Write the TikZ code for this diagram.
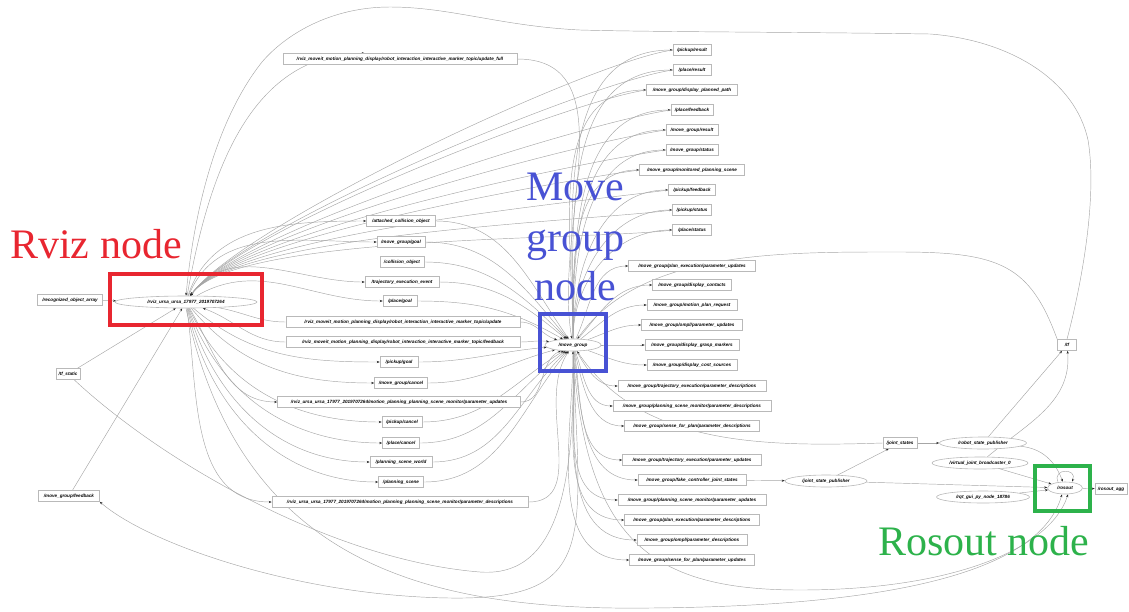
\documentclass[tikz,border=0pt]{standalone}
\usepackage{fontspec}
\setmainfont{Liberation Serif}
\newfontfamily\tinyf{Liberation Sans}
\usetikzlibrary{shapes.geometric,arrows.meta,backgrounds}
\definecolor{rvred}{RGB}{232,38,48}
\definecolor{mgblue}{RGB}{72,82,212}
\definecolor{rogreen}{RGB}{45,178,75}
\tikzset{
  tb/.style={draw=gray!55, line width=0.6pt, fill=white, inner sep=1pt, minimum height=11,
    font=\tinyf\fontsize{4.6}{5}\selectfont\bfseries\itshape},
  nd/.style={ellipse, draw=gray!55, line width=0.6pt, fill=white, inner sep=0pt, minimum height=12,
    font=\tinyf\fontsize{4.6}{5}\selectfont\bfseries\itshape},
  e/.style={draw=gray!70, line width=0.45pt, -{Stealth[length=3pt,width=2.2pt,color=black!85]}},
  ne/.style={draw=gray!70, line width=0.45pt},
  big/.style={inner sep=0pt, font=\fontsize{42}{42}\selectfont},
  hl/.style={line width=4pt}
}
\begin{document}
\begin{tikzpicture}[x=1pt,y=1pt]
\useasboundingbox (0,0) rectangle (1129,-611);

% left nodes
\node[tb,minimum width=65] (roa) at (70,-300) {/recognized\_object\_array};
\node[nd,minimum width=142] (rviz) at (186,-302) {/rviz\_ursa\_ursa\_17977\_2019707264};
\node[tb,minimum width=24] (tfs) at (68,-374) {/tf\_static};
\node[tb,minimum width=61] (mgf) at (69,-496) {/move\_group/feedback};

% left topic column
\node[tb,minimum width=234] (uf) at (400,-59) {/rviz\_moveit\_motion\_planning\_display/robot\_interaction\_interactive\_marker\_topic/update\_full};
\node[tb,minimum width=69] (aco) at (401,-221) {/attached\_collision\_object};
\node[tb,minimum width=48] (mgg) at (401,-242) {/move\_group/goal};
\node[tb,minimum width=44] (co) at (402,-262) {/collision\_object};
\node[tb,minimum width=74] (tee) at (402,-282) {/trajectory\_execution\_event};
\node[tb,minimum width=34] (plg) at (400,-301) {/place/goal};
\node[tb,minimum width=234] (upd) at (403,-322) {/rviz\_moveit\_motion\_planning\_display/robot\_interaction\_interactive\_marker\_topic/update};
\node[tb,minimum width=234] (fb) at (403,-342) {/rviz\_moveit\_motion\_planning\_display/robot\_interaction\_interactive\_marker\_topic/feedback};
\node[tb,minimum width=38] (pkg) at (399,-362) {/pickup/goal};
\node[tb,minimum width=53] (mgc) at (401,-383) {/move\_group/cancel};
\node[tb,minimum width=243] (rpu) at (399,-402) {/rviz\_ursa\_ursa\_17977\_2019707264/motion\_planning\_planning\_scene\_monitor/parameter\_updates};
\node[tb,minimum width=40] (pkc) at (402,-422) {/pickup/cancel};
\node[tb,minimum width=37] (plc) at (401,-443) {/place/cancel};
\node[tb,minimum width=62] (psw) at (401,-462) {/planning\_scene\_world};
\node[tb,minimum width=45] (ps) at (401,-482) {/planning\_scene};
\node[tb,minimum width=256] (rpd) at (400,-502) {/rviz\_ursa\_ursa\_17977\_2019707264/motion\_planning\_planning\_scene\_monitor/parameter\_descriptions};

% move group
\node[nd,minimum width=56] (mg) at (573,-345) {/move\_group};

% right topic column
\node[tb,minimum width=38] (pr) at (692,-50) {/pickup/result};
\node[tb,minimum width=38] (plr) at (692,-70) {/place/result};
\node[tb,minimum width=91] (dpp) at (692,-90) {/move\_group/display\_planned\_path};
\node[tb,minimum width=42] (plf) at (692,-110) {/place/feedback};
\node[tb,minimum width=52] (mgr) at (692,-130) {/move\_group/result};
\node[tb,minimum width=52] (mgs) at (692,-150) {/move\_group/status};
\node[tb,minimum width=105] (mps) at (692,-170) {/move\_group/monitored\_planning\_scene};
\node[tb,minimum width=47] (pkf) at (692,-190) {/pickup/feedback};
\node[tb,minimum width=39] (pks) at (692,-210) {/pickup/status};
\node[tb,minimum width=39] (pls) at (692,-230) {/place/status};
\node[tb,minimum width=127] (peu) at (692,-266) {/move\_group/plan\_execution/parameter\_updates};
\node[tb,minimum width=79] (dc) at (692,-285) {/move\_group/display\_contacts};
\node[tb,minimum width=90] (mpr) at (692,-305) {/move\_group/motion\_plan\_request};
\node[tb,minimum width=101] (opu) at (692,-325) {/move\_group/ompl/parameter\_updates};
\node[tb,minimum width=94] (dgm) at (692,-345) {/move\_group/display\_grasp\_markers};
\node[tb,minimum width=90] (dcs) at (692,-365) {/move\_group/display\_cost\_sources};
\node[tb,minimum width=148] (ted) at (692,-386) {/move\_group/trajectory\_execution/parameter\_descriptions};
\node[tb,minimum width=158] (psmd) at (692,-406) {/move\_group/planning\_scene\_monitor/parameter\_descriptions};
\node[tb,minimum width=135] (sfpd) at (692,-426) {/move\_group/sense\_for\_plan/parameter\_descriptions};
\node[tb,minimum width=139] (teu) at (692,-460) {/move\_group/trajectory\_execution/parameter\_updates};
\node[tb,minimum width=108] (fcjs) at (692,-480) {/move\_group/fake\_controller\_joint\_states};
\node[tb,minimum width=148] (psmu) at (692,-500) {/move\_group/planning\_scene\_monitor/parameter\_updates};
\node[tb,minimum width=135] (ped) at (692,-520) {/move\_group/plan\_execution/parameter\_descriptions};
\node[tb,minimum width=110] (od) at (692,-540) {/move\_group/ompl/parameter\_descriptions};
\node[tb,minimum width=125] (sfpu) at (692,-560) {/move\_group/sense\_for\_plan/parameter\_updates};

% far right
\node[tb,minimum width=19] (tf) at (1067,-345) {/tf};
\node[tb,minimum width=34] (js) at (900,-443) {/joint\_states};
\node[nd,minimum width=87] (rsp) at (983,-443) {/robot\_state\_publisher};
\node[nd,minimum width=96] (vjb) at (980,-463) {/virtual\_joint\_broadcaster\_0};
\node[nd,minimum width=82] (jsp) at (826,-481) {/joint\_state\_publisher};
\node[nd,minimum width=35] (rosout) at (1065,-488) {/rosout};
\node[nd,minimum width=93] (rqt) at (983,-497) {/rqt\_gui\_py\_node\_18786};
\node[tb,minimum width=32] (ragg) at (1111,-489) {/rosout\_agg};

\begin{scope}[on background layer]
% into rviz
\draw[e] (roa) -- (rviz);
\draw[e] (tfs) -- (rviz);
\draw[e] (mgf) -- (rviz);
\draw[e] (fb.west) to[out=180,in=-20] (rviz);
\draw[ne] (rviz) to[out=-10,in=180] (upd.west);
% big top arc /tf -> rviz
\draw[e] (tf.north) .. controls (1080,-290) and (1098,-200) .. (1088,-140)
  .. controls (1075,-80) and (1010,-40) .. (930,-34)
  .. controls (800,-32) and (650,-32) .. (580,-30)
  .. controls (500,-26) and (450,-7) .. (390,-7)
  .. controls (330,-7) and (285,-35) .. (262,-62)
  .. controls (220,-115) and (195,-200) .. (rviz.north);
% /tf -> move_group
\draw[e] (tf.north west) .. controls (1030,-265) and (1000,-252) .. (900,-252)
  .. controls (780,-252) and (640,-250) .. (mg);
% rviz -> update_full
\draw[e] (rviz) to[out=80,in=180] ([xshift=82]uf.north west);
% rviz -> left topics
\foreach \t/\a in {aco/72,mgg/68,tee/55,plg/30,pkg/-40,mgc/-50,rpu/-60,pkc/-65,plc/-70,psw/-74,ps/-78,rpd/-82}
  \draw[e] (rviz) to[out=\a,in=180] (\t.west);
% left topics -> move_group
\foreach \t/\a in {uf/100,aco/125,mgg/130,co/135,tee/140,plg/150,upd/162,fb/172,pkg/185,mgc/195,rpu/205,pkc/212,plc/218,psw/224,ps/230,rpd/236}
  \draw[e] (\t.east) to[out=0,in=\a] (mg);
% move_group -> right upper topics, and those -> rviz
\foreach \t in {pr,plr,dpp,plf,mgr,mgs,mps,pkf,pks,pls}{
  \draw[e] (mg) to[out=90,in=180] (\t.west);
  \draw[e] (\t.west) to[out=188,in=55,looseness=0.4] (rviz);
}
% move_group -> right lower topics
\foreach \t/\a in {peu/65,dc/50,mpr/38,opu/20,dgm/0,dcs/-20,ted/-60,psmd/-70,sfpd/-76,teu/-80,fcjs/-83,psmu/-85,ped/-87,od/-88,sfpu/-90}
  \draw[e] (mg) to[out=\a,in=180] (\t.west);
% joint states
\draw[e] (fcjs) -- (jsp);
\draw[e] (jsp) -- (js);
\draw[e] (js) -- (rsp);
\draw[e] (js.west) .. controls (760,-447) and (640,-445) .. (mg);
\draw[e] (rsp) -- (tf);
\draw[e] (vjb) to[out=40,in=-85] (tf);
\draw[e] (rsp) to[out=-5,in=110] (rosout);
\draw[e] (vjb) -- (rosout);
\draw[e] (jsp) -- (rosout);
\draw[e] (rqt) -- (rosout);
\draw[e] ([xshift=-7]rosout.north) .. controls (1052,-468) and (1078,-468) .. ([xshift=7]rosout.north);
\draw[e] (rosout) -- (ragg);
% bottom arcs
\draw[e] (mg.south) .. controls (580,-540) and (600,-600) .. (450,-598)
  .. controls (300,-596) and (150,-545) .. (mgf.south east);
\draw[e] (tfs) .. controls (160,-460) and (330,-560) .. (480,-572)
  .. controls (560,-578) and (575,-480) .. (mg.south);
\draw[e] (rviz.south) .. controls (240,-560) and (420,-611) .. (650,-608)
  .. controls (900,-606) and (1040,-570) .. ([xshift=-3]rosout.south);
\draw[e] (mg.south) .. controls (585,-540) and (650,-590) .. (800,-590)
  .. controls (950,-590) and (1050,-550) .. ([xshift=3]rosout.south);
\end{scope}

% highlight rectangles
\draw[rvred,hl] (110,-274) rectangle (262,-325);
\draw[mgblue,hl] (540,-314) rectangle (606,-371);
\draw[rogreen,hl] (1035,-466) rectangle (1090,-511);

% annotations
\node[big,text=rvred,anchor=base west] (lrv) at (10,-258) {Rviz node};
\node[big,text=mgblue,anchor=base] (lmg1) at (575,-200) {Move};
\node[big,text=mgblue,anchor=base] (lmg2) at (575,-251) {group};
\node[big,text=mgblue,anchor=base] (lmg3) at (575,-300) {node};
\node[big,text=rogreen,anchor=base west] (lro) at (878,-555) {Rosout node};
\end{tikzpicture}
\end{document}
